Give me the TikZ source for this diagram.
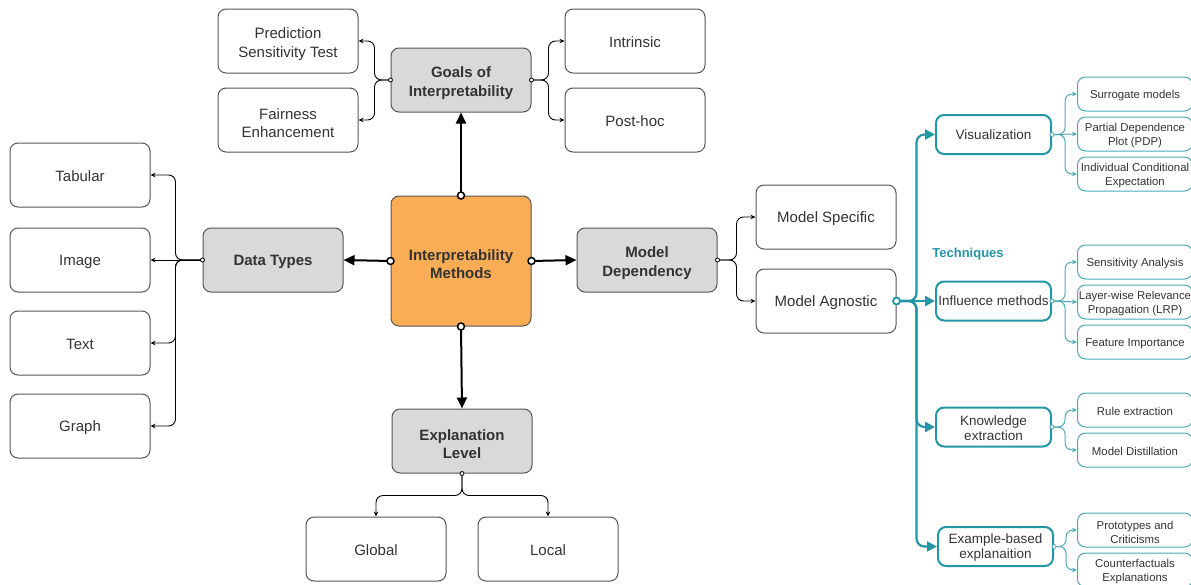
\documentclass[tikz,border=0pt]{standalone}
\usepackage{fontspec}
\setmainfont{Liberation Sans}
\usetikzlibrary{arrows.meta}
\definecolor{txt}{HTML}{333333}
\definecolor{bord}{HTML}{555555}
\definecolor{grayfill}{HTML}{D9D9D9}
\definecolor{orangefill}{HTML}{FBAD55}
\definecolor{tealA}{HTML}{2396A5}
\definecolor{tealB}{HTML}{4CAAB7}
\newcommand\mlA{\rule{0pt}{17pt}}
\newcommand\mlB{\rule{0pt}{12.3pt}}
\newcommand\mlC{\rule{0pt}{12pt}}
\begin{document}
\begin{tikzpicture}[x=1pt,y=-1pt,
  box/.style={draw=bord, line width=1pt, rounded corners=8pt, minimum width=140pt, minimum height=64pt,
    align=center, font=\fontsize{15}{18.5}\selectfont, text=txt, inner sep=0pt,
    execute at begin node={\rule{0pt}{13.5pt}}},
  gbox/.style={box, fill=grayfill, font=\fontsize{15}{18.5}\selectfont\bfseries},
  obox/.style={box, fill=orangefill, minimum height=130pt, font=\fontsize{15}{18.5}\selectfont\bfseries},
  tbox/.style={draw=tealA, line width=2pt, rounded corners=8pt, minimum width=115pt, minimum height=39pt,
    align=center, font=\fontsize{13.5}{15}\selectfont, text=txt, inner sep=0pt},
  sbox/.style={draw=tealB, line width=1pt, rounded corners=8pt, minimum width=115pt, minimum height=34pt,
    align=center, font=\fontsize{11.4}{14}\selectfont, text=txt, inner sep=0pt,
    execute at begin node={\rule{0pt}{11pt}}},
  thin/.style={line width=0.9pt, rounded corners=7pt, -{Stealth[length=5pt,width=4.5pt]}},
  thick/.style={line width=2pt, -{Triangle[length=11pt,width=10pt]}},
  tthick/.style={line width=2.2pt, draw=tealA, rounded corners=8pt, -{Triangle[length=10pt,width=10pt]}},
  tthin/.style={line width=1pt, draw=tealB, rounded corners=7pt, -{Stealth[length=5pt,width=4.5pt]}},
  sdot/.style={circle, fill=white, draw=black, line width=0.8pt, inner sep=0pt, minimum size=4pt},
  bdot/.style={circle, fill=white, draw=black, line width=1.5pt, inner sep=0pt, minimum size=7pt},
  tsdot/.style={sdot, draw=tealB},
  tbdot/.style={bdot, draw=tealA, line width=1.8pt}
]
\useasboundingbox (0,0) rectangle (1191,584);

% --- nodes ---
\node[box] (pst) at (288,41) {\mlA Prediction\\Sensitivity Test};
\node[box] (fe) at (288,120) {\mlA Fairness\\Enhancement};
\node[gbox] (goals) at (461,80) {\mlA Goals of\\Interpretability};
\node[box] (intr) at (635,41) {Intrinsic};
\node[box] (post) at (635,120) {Post-hoc};

\node[box] (tab) at (80,175) {Tabular};
\node[box] (img) at (80,260) {Image};
\node[box] (txtn) at (80,343) {Text};
\node[box] (graph) at (80,426) {Graph};
\node[gbox] (dt) at (273,260) {Data Types};

\node[obox] (im) at (461,261) {\mlA Interpretability\\Methods};

\node[gbox] (md) at (647,260) {\mlA Model\\Dependency};
\node[box] (ms) at (826,217) {Model Specific};
\node[box] (ma) at (826,301) {Model Agnostic};

\node[gbox] (el) at (462,441) {\mlA Explanation\\Level};
\node[box] (glob) at (376,549) {Global};
\node[box] (loc) at (548,549) {Local};

\node[tbox] (vis) at (993.5,134.5) {Visualization};
\node[tbox] (inf) at (993.5,301) {Influence methods};
\node[tbox] (ke) at (993.5,427) {\mlC Knowledge\\extraction};
\node[tbox] (eb) at (995.5,546.5) {\mlC Example-based\\explanaition};

\node[font=\fontsize{13}{15}\selectfont\bfseries, text=tealA] (tech) at (968,254.5) {Techniques};

\node[sbox] (sur) at (1135,94) {Surrogate models};
\node[sbox] (pdp) at (1135,134) {\mlB Partial Dependence\\Plot (PDP)};
\node[sbox] (ice) at (1135,174) {\mlB Individual Conditional\\Expectation};
\node[sbox] (sa) at (1135,262) {Sensitivity Analysis};
\node[sbox] (lrp) at (1135,302) {\mlB Layer-wise Relevance\\Propagation (LRP)};
\node[sbox] (fi) at (1135,342) {Feature Importance};
\node[sbox] (re) at (1135,410) {Rule extraction};
\node[sbox] (mdist) at (1135,450) {Model Distillation};
\node[sbox] (pc) at (1135,530) {\mlB Prototypes and\\Criticisms};
\node[sbox] (cf) at (1135,570) {\mlB Counterfactuals\\Explanations};

% --- main thick connectors ---
\draw[thick] (im.north) -- (goals.south);
\draw[thick] (im.west) -- (dt.east);
\draw[thick] (im.east) -- (md.west);
\draw[thick] (im.south) -- (el.north);

% --- goals ---
\draw[thin] (goals.west) -- ++(-16,0) |- (pst.east);
\draw[thin] (goals.west) -- ++(-16,0) |- (fe.east);
\draw[thin] (goals.east) -- ++(17,0) |- (intr.west);
\draw[thin] (goals.east) -- ++(17,0) |- (post.west);

% --- data types ---
\draw[thin] (dt.west) -- ++(-27,0) |- (tab.east);
\draw[thin] (dt.west) -- (img.east);
\draw[thin] (dt.west) -- ++(-27,0) |- (txtn.east);
\draw[thin] (dt.west) -- ++(-27,0) |- (graph.east);

% --- model dependency ---
\draw[thin] (md.east) -- ++(19,0) |- (ms.west);
\draw[thin] (md.east) -- ++(19,0) |- (ma.west);

% --- explanation level ---
\draw[thin] (el.south) -- ++(0,22) -| (glob.north);
\draw[thin] (el.south) -- ++(0,22) -| (loc.north);

% --- techniques trunk ---
\draw[tthick] (ma.east) -- ++(20,0) |- (vis.west);
\draw[tthick] (ma.east) -- (inf.west);
\draw[tthick] (ma.east) -- ++(20,0) |- (ke.west);
\draw[tthick] (ma.east) -- ++(20,0) |- (eb.west);

% --- teal sub connectors ---
\draw[tthin] (vis.east) -- ++(13,0) |- (sur.west);
\draw[tthin] (vis.east) -- (pdp.west);
\draw[tthin] (vis.east) -- ++(13,0) |- (ice.west);
\draw[tthin] (inf.east) -- ++(13,0) |- (sa.west);
\draw[tthin] (inf.east) -- (lrp.west);
\draw[tthin] (inf.east) -- ++(13,0) |- (fi.west);
\draw[tthin] (ke.east) -- ++(13,0) |- (re.west);
\draw[tthin] (ke.east) -- ++(13,0) |- (mdist.west);
\draw[tthin] (eb.east) -- ++(12,0) |- (pc.west);
\draw[tthin] (eb.east) -- ++(12,0) |- (cf.west);

% --- source dots ---
\node[bdot] at (im.north) {};
\node[bdot] at (im.west) {};
\node[bdot] at (im.east) {};
\node[bdot] at (im.south) {};
\node[sdot] at (goals.west) {};
\node[sdot] at (goals.east) {};
\node[sdot] at (dt.west) {};
\node[sdot] at (md.east) {};
\node[sdot] at (el.south) {};
\node[tbdot] at (ma.east) {};
\node[tsdot] at (vis.east) {};
\node[tsdot] at (inf.east) {};
\node[tsdot] at (ke.east) {};
\node[tsdot] at (eb.east) {};
\end{tikzpicture}
\end{document}
